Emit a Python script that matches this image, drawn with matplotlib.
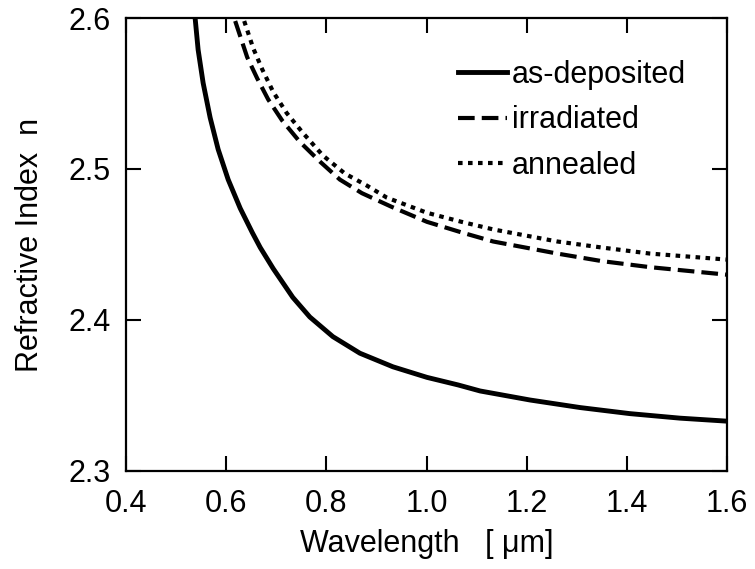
import matplotlib
matplotlib.use("Agg")
import matplotlib.pyplot as plt

# values
wl_dep = [0.538, 0.544, 0.554, 0.568, 0.584, 0.604, 0.628, 0.652, 0.668, 0.694,
          0.733, 0.767, 0.813, 0.867, 0.933, 1.001, 1.063, 1.107, 1.207, 1.307,
          1.406, 1.506, 1.600]
n_dep = [2.600, 2.579, 2.557, 2.534, 2.513, 2.493, 2.474, 2.458, 2.448, 2.434,
         2.415, 2.402, 2.389, 2.378, 2.369, 2.362, 2.357, 2.353, 2.347, 2.342,
         2.338, 2.335, 2.333]

wl_irr = [0.618, 0.642, 0.662, 0.684, 0.712, 0.747, 0.787, 0.827, 0.871, 0.930,
          1.001, 1.070, 1.133, 1.261, 1.350, 1.446, 1.600]
n_irr = [2.598, 2.574, 2.560, 2.546, 2.532, 2.518, 2.505, 2.493, 2.484, 2.475,
         2.465, 2.458, 2.452, 2.444, 2.439, 2.435, 2.430]

wl_ann = [0.636, 0.654, 0.672, 0.694, 0.721, 0.753, 0.793, 0.837, 0.881, 0.921,
          1.001, 1.070, 1.133, 1.261, 1.350, 1.446, 1.600]
n_ann = [2.598, 2.580, 2.566, 2.551, 2.537, 2.524, 2.509, 2.497, 2.489, 2.481,
         2.471, 2.465, 2.460, 2.452, 2.448, 2.444, 2.440]

x_ticks = [0.4, 0.6, 0.8, 1.0, 1.2, 1.4, 1.6]
y_ticks = [2.3, 2.4, 2.5, 2.6]

plt.rcParams["font.family"] = ["Liberation Sans", "DejaVu Sans"]
fs = 22

fig = plt.figure(figsize=(7.55, 5.69), dpi=100)
ax = fig.add_axes([126 / 755, 1 - 471 / 569, 601 / 755, 453 / 569])

ax.plot(wl_dep, n_dep, color="black", lw=3.5, label="as-deposited")
ax.plot(wl_irr, n_irr, color="black", lw=3, dashes=(4, 1.7), label="irradiated")
ax.plot(wl_ann, n_ann, color="black", lw=3, dashes=(1.1, 1.3), label="annealed")

ax.set_xlim(0.4, 1.6)
ax.set_ylim(2.3, 2.6)
ax.set_xticks(x_ticks)
ax.set_yticks(y_ticks)
ax.set_xticklabels(["%.1f" % v for v in x_ticks])
ax.set_yticklabels(["%.1f" % v for v in y_ticks])
ax.tick_params(direction="in", length=11, width=1.5, labelsize=fs,
               top=True, right=True)
ax.tick_params(axis="x", pad=13)
ax.tick_params(axis="y", pad=11)
for s in ax.spines.values():
    s.set_linewidth(1.6)

ax.set_xlabel("Wavelength   [ μm]", fontsize=fs, labelpad=7)
ax.set_ylabel("Refractive Index  n", fontsize=fs, labelpad=17)

ax.legend(loc="upper left", bbox_to_anchor=(458 / 755, 1 - 60 / 569),
          bbox_transform=fig.transFigure, frameon=False, fontsize=fs,
          handlelength=1.6, handletextpad=0.17, labelspacing=0.5,
          borderpad=0, borderaxespad=0)

fig.savefig("out.png", dpi=100)
